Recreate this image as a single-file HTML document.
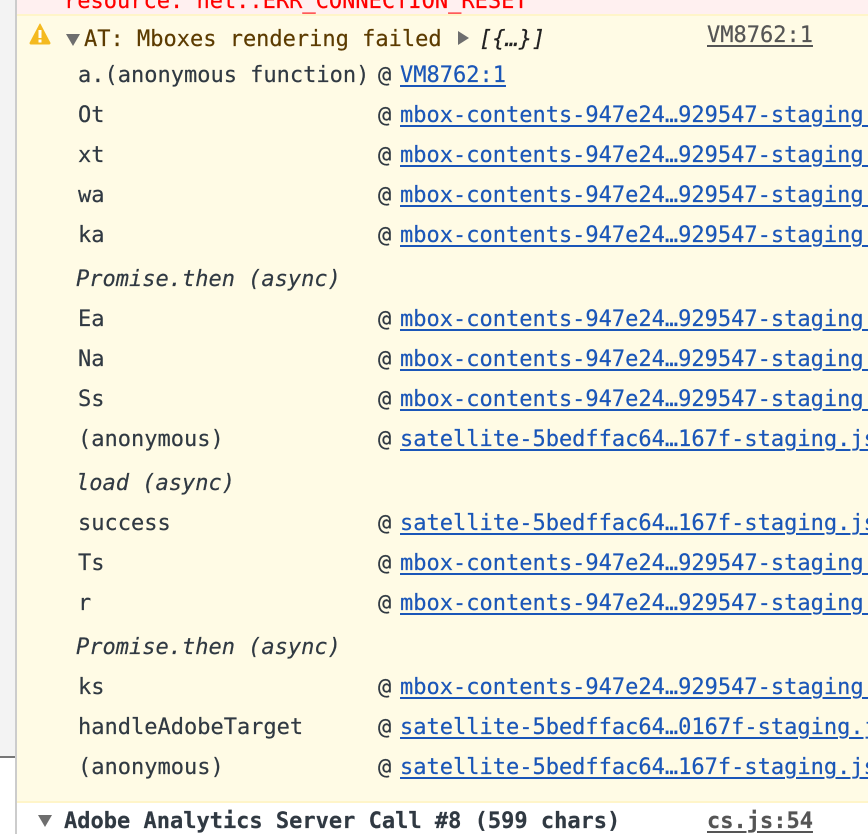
<!DOCTYPE html>
<html>
<head>
<meta charset="utf-8">
<style>
html,body{margin:0;padding:0;background:#fff}
#p{position:relative;width:868px;height:834px;overflow:hidden;background:#fff;font-family:"DejaVu Sans Mono","Liberation Mono",monospace;font-size:22px;color:#303942;-webkit-text-stroke:0.2px currentColor}
.b{position:absolute}
.t{position:absolute;white-space:pre;line-height:44px;height:44px}
.l{color:#1a56b8;text-decoration:underline;text-underline-offset:3px;text-decoration-thickness:2px}
.g{color:#555;text-decoration:underline;text-underline-offset:3px;text-decoration-thickness:2px}
.i{font-style:italic}
</style>
</head>
<body>
<div id="p">
<div class="b" style="left:0;top:0;width:15px;height:757px;background:#f3f3f3"></div>
<div class="b" style="left:0;top:757px;width:15px;height:77px;background:#fff"></div>
<div class="b" style="left:0;top:756px;width:15px;height:2px;background:#777"></div>
<div class="b" style="left:15px;top:0;width:2px;height:834px;background:#ccc"></div>
<div class="b" style="left:17px;top:0;width:851px;height:14px;background:#fff0f0"></div>
<div class="b" style="left:17px;top:14px;width:851px;height:787px;background:#fffbe5"></div>
<div class="b" style="left:17px;top:14px;width:851px;height:2px;background:#fff5c9"></div>
<div class="b" style="left:17px;top:801px;width:851px;height:2px;background:#fff5c9"></div>
<div class="t" style="left:64px;top:-20px;color:#f00">resource: net::ERR_CONNECTION_RESET</div>
<svg class="b" style="left:28px;top:22px" width="24" height="24" viewBox="0 0 24 24"><path d="M12 2 L22 21 Q22 22 21 22 L3 22 Q2 22 2 21 Z" fill="#f4b91f" stroke="#f4b91f" stroke-linejoin="round"/><rect x="10.5" y="8" width="3" height="8" fill="#fff"/><rect x="10.5" y="17.5" width="3" height="3" fill="#fff"/></svg>
<svg class="b" style="left:66px;top:34px" width="14" height="12"><path d="M0 0H14L7 12Z" fill="#6e6e6e"/></svg>
<div class="t" style="left:84px;top:18px;color:#5c3b00">AT: Mboxes rendering failed</div>
<svg class="b" style="left:458px;top:31px" width="11" height="14"><path d="M0 0V14L11 7Z" fill="#6e6e6e"/></svg>
<div class="t i" style="left:479px;top:18px;color:#222">[{…}]</div>
<div class="t g" style="left:707px;top:14px">VM8762:1</div>

<div class="t" style="left:78px;top:54px">a.(anonymous function)</div><div class="t" style="left:378px;top:54px">@</div><div class="t l" style="left:400px;top:54px">VM8762:1</div>
<div class="t" style="left:78px;top:94px">Ot</div><div class="t" style="left:378px;top:94px">@</div><div class="t l" style="left:400px;top:94px">mbox-contents-947e24…929547-staging.js</div>
<div class="t" style="left:78px;top:134px">xt</div><div class="t" style="left:378px;top:134px">@</div><div class="t l" style="left:400px;top:134px">mbox-contents-947e24…929547-staging.js</div>
<div class="t" style="left:78px;top:174px">wa</div><div class="t" style="left:378px;top:174px">@</div><div class="t l" style="left:400px;top:174px">mbox-contents-947e24…929547-staging.js</div>
<div class="t" style="left:78px;top:214px">ka</div><div class="t" style="left:378px;top:214px">@</div><div class="t l" style="left:400px;top:214px">mbox-contents-947e24…929547-staging.js</div>
<div class="t i" style="left:76px;top:258px">Promise.then (async)</div>
<div class="t" style="left:78px;top:298px">Ea</div><div class="t" style="left:378px;top:298px">@</div><div class="t l" style="left:400px;top:298px">mbox-contents-947e24…929547-staging.js</div>
<div class="t" style="left:78px;top:338px">Na</div><div class="t" style="left:378px;top:338px">@</div><div class="t l" style="left:400px;top:338px">mbox-contents-947e24…929547-staging.js</div>
<div class="t" style="left:78px;top:378px">Ss</div><div class="t" style="left:378px;top:378px">@</div><div class="t l" style="left:400px;top:378px">mbox-contents-947e24…929547-staging.js</div>
<div class="t" style="left:78px;top:418px">(anonymous)</div><div class="t" style="left:378px;top:418px">@</div><div class="t l" style="left:400px;top:418px">satellite-5bedffac64…167f-staging.js</div>
<div class="t i" style="left:76px;top:462px">load (async)</div>
<div class="t" style="left:78px;top:502px">success</div><div class="t" style="left:378px;top:502px">@</div><div class="t l" style="left:400px;top:502px">satellite-5bedffac64…167f-staging.js</div>
<div class="t" style="left:78px;top:542px">Ts</div><div class="t" style="left:378px;top:542px">@</div><div class="t l" style="left:400px;top:542px">mbox-contents-947e24…929547-staging.js</div>
<div class="t" style="left:78px;top:582px">r</div><div class="t" style="left:378px;top:582px">@</div><div class="t l" style="left:400px;top:582px">mbox-contents-947e24…929547-staging.js</div>
<div class="t i" style="left:76px;top:626px">Promise.then (async)</div>
<div class="t" style="left:78px;top:666px">ks</div><div class="t" style="left:378px;top:666px">@</div><div class="t l" style="left:400px;top:666px">mbox-contents-947e24…929547-staging.js</div>
<div class="t" style="left:78px;top:706px">handleAdobeTarget</div><div class="t" style="left:378px;top:706px">@</div><div class="t l" style="left:400px;top:706px">satellite-5bedffac64…0167f-staging.js</div>
<div class="t" style="left:78px;top:746px">(anonymous)</div><div class="t" style="left:378px;top:746px">@</div><div class="t l" style="left:400px;top:746px">satellite-5bedffac64…167f-staging.js</div>

<svg class="b" style="left:38px;top:815px" width="14" height="12"><path d="M0 0H14L7 12Z" fill="#6e6e6e"/></svg>
<div class="t" style="left:64px;top:800px;font-weight:bold">Adobe Analytics Server Call #8 (599 chars)</div>
<div class="t g" style="left:707px;top:800px;font-weight:bold">cs.js:54</div>
</div>
</body>
</html>
